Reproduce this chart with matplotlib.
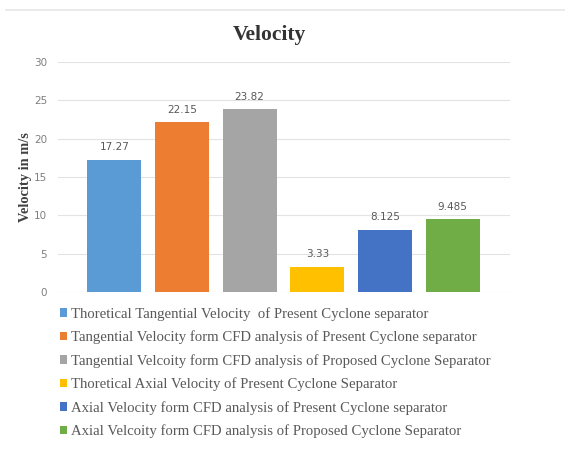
import matplotlib.pyplot as plt
from matplotlib.patches import Patch
from matplotlib.lines import Line2D

labels = [
    'Thoretical Tangential Velocity  of Present Cyclone separator',
    'Tangential Velocity form CFD analysis of Present Cyclone separator',
    'Tangential Velcoity form CFD analysis of Proposed Cyclone Separator',
    'Thoretical Axial Velocity of Present Cyclone Separator',
    'Axial Velocity form CFD analysis of Present Cyclone separator',
    'Axial Velcoity form CFD analysis of Proposed Cyclone Separator',
]
values = [17.27, 22.15, 23.82, 3.33, 8.125, 9.485]
value_text = ['17.27', '22.15', '23.82', '3.33', '8.125', '9.485']
colors = ['#5B9BD5', '#ED7D31', '#A5A5A5', '#FFC000', '#4472C4', '#70AD47']
yticks = [0, 5, 10, 15, 20, 25, 30]

fig = plt.figure(figsize=(5.65, 4.63), dpi=100)
ax = fig.add_axes([0.103, 0.369, 0.8, 0.497])

x = list(range(len(values)))
bars = ax.bar(x, values, width=0.8, color=colors, zorder=3)
for b, t in zip(bars, value_text):
    ax.text(b.get_x() + b.get_width() / 2, b.get_height() + 1.0, t,
            ha='center', va='bottom', fontsize=7.5, color='#595959')

ax.set_xlim(-0.83, 5.85)
ax.set_ylim(0, 30)
ax.set_yticks(yticks)
ax.set_xticks([])
ax.grid(axis='y', color='#e3e3e3', linewidth=0.8, zorder=0)
for s in ax.spines.values():
    s.set_visible(False)
ax.tick_params(axis='y', length=0, labelsize=7.5, labelcolor='#7f7f7f', pad=8)
ax.set_ylabel('Velocity in m/s', family='Liberation Serif', fontweight='bold',
              fontsize=10.4, color='#404040', labelpad=1)

fig.text(0.477, 0.924, 'Velocity', family='Liberation Serif', fontweight='bold',
         fontsize=15.5, color='#333333', ha='center', va='center')

# thin frame line at the top of the chart image
fig.add_artist(Line2D([0.01, 1.0], [0.978, 0.978], color='#e6e6e6', linewidth=1.2))

handles = [Patch(facecolor=c) for c in colors]
fig.legend(handles, labels, loc='upper left', bbox_to_anchor=(0.095, 0.35),
           frameon=False, ncol=1, labelcolor='#595959',
           handlelength=0.5, handleheight=0.5, handletextpad=0.3,
           labelspacing=0.66, borderaxespad=0,
           prop={'family': 'Liberation Serif', 'size': 10.6})

fig.savefig('out.png', dpi=100)
